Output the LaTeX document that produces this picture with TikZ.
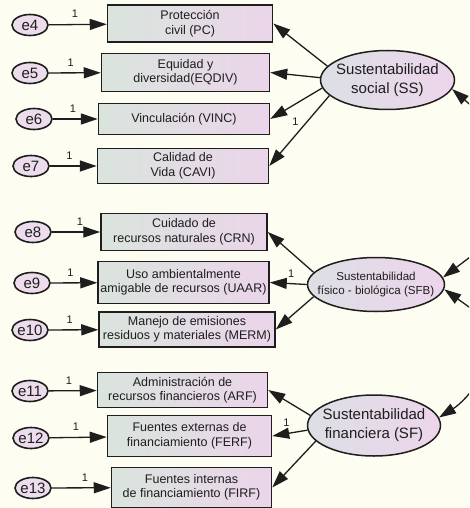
\documentclass[tikz,border=0pt]{standalone}
\usepackage{fontspec}
\setmainfont{Liberation Sans}
\usetikzlibrary{arrows.meta,shapes.geometric}

\definecolor{paper}{HTML}{FDFDF1}
\definecolor{ink}{HTML}{1E1E1E}
\definecolor{boxl}{HTML}{DAE4DD}
\definecolor{boxr}{HTML}{EBD5EA}
\definecolor{ovl}{HTML}{DCDFE4}
\definecolor{ovr}{HTML}{EDD5EC}
\definecolor{errfill}{HTML}{ECDCEC}

\begin{document}
\begin{tikzpicture}[x=1pt, y=1pt,
		obs/.style={rectangle, draw=ink, line width=1.5pt, left color=boxl, right color=boxr, text=ink, align=center, inner sep=0pt, font=\fontsize{12.5}{14.5}\selectfont},
		lat/.style={ellipse, draw=ink, line width=1.5pt, left color=ovl, right color=ovr, text=ink, align=center, inner xsep=-10pt, inner ysep=0pt},
		err/.style={ellipse, draw=ink, line width=1.6pt, fill=errfill, text=ink, inner sep=0pt, minimum width=36pt, minimum height=21pt, font=\fontsize{15}{15}\selectfont},
		link/.style={draw=ink, line width=1.3pt, -{Triangle[length=17pt, width=11pt]}},
		one/.style={font=\fontsize{11}{11}\selectfont, text=ink, inner sep=1pt}]
		\useasboundingbox (0,0) rectangle (469,-508);
		\fill[paper] (0,0) rectangle (469,-508);
		\clip (0,0) rectangle (469,-508);
		\node[err] (e4) at (30,-25) {e4};
		\node[err] (e5) at (30,-73) {e5};
		\node[err] (e6) at (34,-119) {e6};
		\node[err] (e7) at (31,-166) {e7};
		\node[err] (e8) at (33,-232) {e8};
		\node[err] (e9) at (32,-283) {e9};
		\node[err] (e10) at (30,-330) {e10};
		\node[err] (e11) at (30,-391) {e11};
		\node[err] (e12) at (31,-438) {e12};
		\node[err] (e13) at (33,-488) {e13};
		\node[obs, minimum width=165pt, minimum height=37pt] (PC) at (190,-23.5) {Protección\\civil (PC)};
		\node[obs, minimum width=168pt, minimum height=38pt] (EQDIV) at (185.5,-72.5) {Equidad y\\diversidad(EQDIV)};
		\node[obs, minimum width=171pt, minimum height=31pt] (VINC) at (184,-119) {Vinculación (VINC)};
		\node[obs, minimum width=171pt, minimum height=35pt] (CAVI) at (183,-166) {Calidad de\\Vida (CAVI)};
		\node[obs, minimum width=166pt, minimum height=37pt] (CRN) at (184,-232) {Cuidado de\\recursos naturales (CRN)};
		\node[obs, minimum width=171pt, minimum height=42pt] (UAAR) at (183.5,-282.5) {Uso ambientalmente\\amigable de recursos (UAAR)};
		\node[obs, minimum width=176pt, minimum height=35pt] (MERM) at (187,-329.5) {Manejo de emisiones\\residuos y materiales (MERM)};
		\node[obs, minimum width=170pt, minimum height=35pt] (ARF) at (182.5,-390) {Administración de\\recursos financieros (ARF)};
		\node[obs, minimum width=164pt, minimum height=41pt] (FERF) at (189.5,-436) {Fuentes externas de\\financiamiento (FERF)};
		\node[obs, minimum width=160pt, minimum height=40pt] (FIRF) at (191.5,-487.5) {Fuentes internas\\de financiamiento (FIRF)};
		\node[lat, minimum width=134pt, minimum height=59pt, font=\fontsize{15}{19}\selectfont] (SS) at (387.5,-80) {Sustentabilidad\\social (SS)};
		\node[lat, minimum width=137pt, minimum height=54pt, font=\fontsize{11.6}{14.5}\selectfont] (SFB) at (376,-284.5) {Sustentabilidad\\físico - biológica (SFB)};
		\node[lat, minimum width=133pt, minimum height=61pt, font=\fontsize{15}{19}\selectfont] (SF) at (374,-425.5) {Sustentabilidad\\financiera (SF)};
		\coordinate (gSS) at (490,-122);
		\coordinate (gSFBa) at (490,-242);
		\coordinate (gSFBb) at (490,-322);
		\coordinate (gSF) at (484,-374);
		\draw[link] (e4) -- node[one, above=5pt, pos=.45] {1} (PC);
		\draw[link] (e5) -- node[one, above=5pt, pos=.42] {1} (EQDIV);
		\draw[link] (e6) -- node[one, above=5pt, pos=.45] {1} (VINC);
		\draw[link] (e7) -- node[one, above=5pt, pos=.42] {1} (CAVI);
		\draw[link] (e8) -- node[one, above=5pt, pos=.58] {1} (CRN);
		\draw[link] (e9) -- node[one, above=5pt, pos=.42] {1} (UAAR);
		\draw[link] (e10) -- node[one, above=5pt, pos=.42] {1} (MERM);
		\draw[link] (e11) -- node[one, above=5pt, pos=.42] {1} (ARF);
		\draw[link] (e12) -- node[one, above=5pt, pos=.46] {1} (FERF);
		\draw[link] (e13) -- node[one, above=5pt, pos=.56] {1} (FIRF);
		\draw[link] (SS.167) -- (PC.east);
		\draw[link] (SS.178) -- (EQDIV.east);
		\draw[link] (SS.187) -- (VINC.east);
		\draw[link] (SS.195) -- node[one, left=7pt, pos=.37] {1} (CAVI.east);
		\draw[link] (SFB.169) -- (CRN.east);
		\draw[link] (SFB.180) -- node[one, above=5pt, pos=.42] {1} (UAAR.east);
		\draw[link] (SFB.191) -- (MERM.east);
		\draw[link] (SF.171) -- (ARF.east);
		\draw[link] (SF.184) -- node[one, above=6pt, pos=.6] {1} (FERF.east);
		\draw[link] (SF.195) -- (FIRF.east);
		\draw[link] (gSS) -- (SS.-8);
		\draw[link] (gSFBa) -- (SFB.6);
		\draw[link] (gSFBb) -- (SFB.-4);
		\draw[link] (gSF) to[bend left=12] (SF.7);
	\end{tikzpicture}
\end{document}
